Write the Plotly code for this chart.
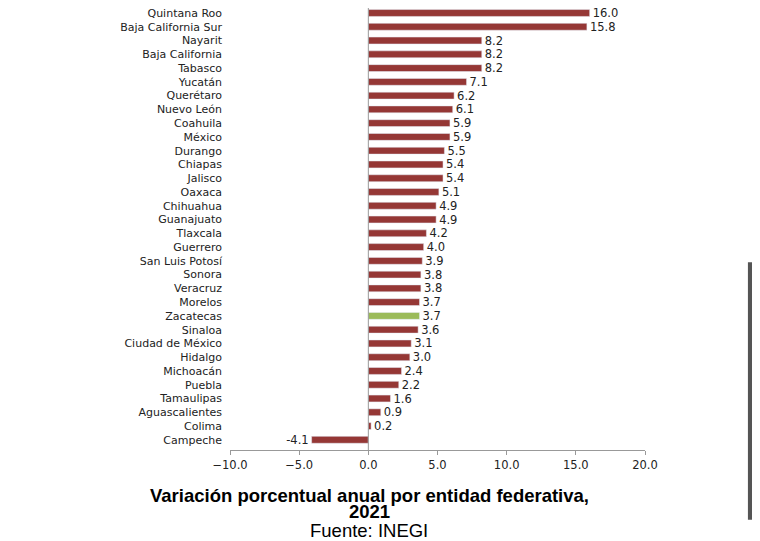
import plotly.graph_objects as go

states = ["Quintana Roo","Baja California Sur","Nayarit","Baja California","Tabasco","Yucatán",
          "Querétaro","Nuevo León","Coahuila","México","Durango","Chiapas","Jalisco","Oaxaca",
          "Chihuahua","Guanajuato","Tlaxcala","Guerrero","San Luis Potosí","Sonora","Veracruz",
          "Morelos","Zacatecas","Sinaloa","Ciudad de México","Hidalgo","Michoacán","Puebla",
          "Tamaulipas","Aguascalientes","Colima","Campeche"]
values = [16.0,15.8,8.2,8.2,8.2,7.1,6.2,6.1,5.9,5.9,5.5,5.4,5.4,5.1,4.9,4.9,4.2,4.0,3.9,3.8,3.8,
          3.7,3.7,3.6,3.1,3.0,2.4,2.2,1.6,0.9,0.2,-4.1]
highlight = "Zacatecas"
colors = ["#9BBB59" if s == highlight else "#953735" for s in states]

fig = go.Figure(go.Bar(
    y=states, x=values, orientation="h", marker_color=colors, width=0.5,
    text=[f"{v:.1f}" for v in values], textposition="outside", cliponaxis=False,
    constraintext="none", textfont=dict(size=11.5, color="#222"),
))
title_font = dict(family="Liberation Sans", size=18.5, color="black")
fig.update_layout(
    width=760, height=541, margin=dict(l=222, r=123, t=0, b=99, autoexpand=False),
    paper_bgcolor="white", plot_bgcolor="white", showlegend=False,
    font=dict(family="DejaVu Sans", size=11, color="#222"),
    xaxis=dict(range=[-10, 20], dtick=5, tickformat=".1f", showgrid=False, zeroline=False,
               showline=True, linecolor="#999", ticks="outside", ticklen=4, tickcolor="#999",
               tickfont=dict(size=11.5), automargin=False),
    yaxis=dict(range=[31.74, -0.363], tickmode="linear", dtick=1, showgrid=False, ticks="",
               tickfont=dict(size=11), ticksuffix="  ", automargin=False),
    shapes=[dict(type="line", xref="x", yref="paper", x0=0, x1=0, y0=0, y1=1,
                 line=dict(color="#999", width=1)),
            dict(type="rect", xref="paper", yref="paper", x0=1.248, x1=1.260, y0=-0.158, y1=0.425,
                 fillcolor="#555", line=dict(width=0), layer="above")],
    annotations=[
        dict(text="<b>Variación porcentual anual por entidad federativa,</b>", xref="paper",
             yref="paper", x=0.335, y=-0.102, yanchor="middle", showarrow=False, font=title_font),
        dict(text="<b>2021</b>", xref="paper", yref="paper", x=0.335, y=-0.140,
             yanchor="middle", showarrow=False, font=title_font),
        dict(text="Fuente: INEGI", xref="paper", yref="paper", x=0.335, y=-0.181,
             yanchor="middle", showarrow=False, font=title_font),
    ],
)
fig.write_html("out.html")
